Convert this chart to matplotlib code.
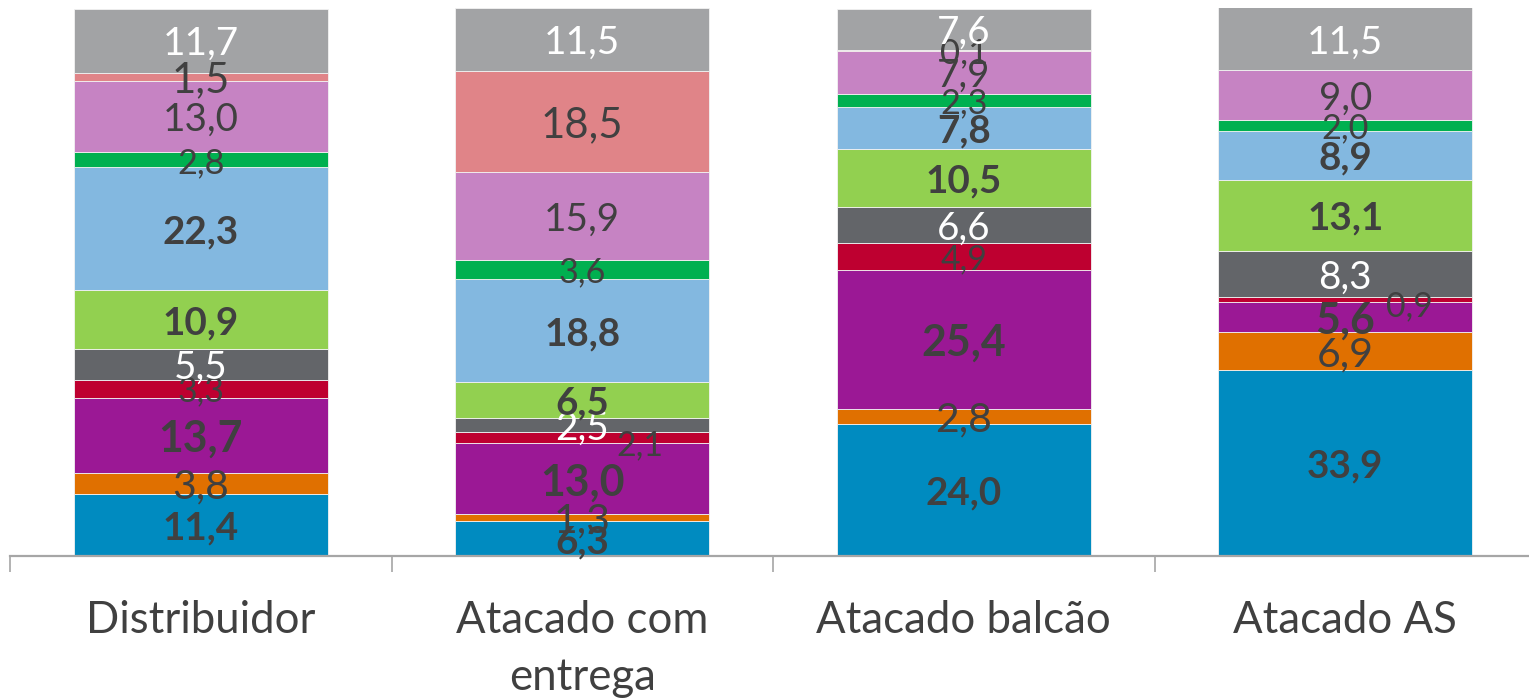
import matplotlib
matplotlib.use("Agg")
import matplotlib.pyplot as plt
import matplotlib.transforms as mtransforms
import numpy as np

plt.rcParams["font.family"] = ["Lato", "DejaVu Sans"]

# Channels (columns) and shares (%) per segment, bottom to top
categories = ["Distribuidor", "Atacado com\nentrega", "Atacado balcão", "Atacado AS"]

seg_blue = [11.4, 6.3, 24.0, 33.9]
seg_orange = [3.8, 1.3, 2.8, 6.9]
seg_purple = [13.7, 13.0, 25.4, 5.6]
seg_red = [3.3, 2.1, 4.9, 0.9]
seg_darkgray = [5.5, 2.5, 6.6, 8.3]
seg_lightgreen = [10.9, 6.5, 10.5, 13.1]
seg_lightblue = [22.3, 18.8, 7.8, 8.9]
seg_green = [2.8, 3.6, 2.3, 2.0]
seg_pink = [13.0, 15.9, 7.9, 9.0]
seg_salmon = [1.5, 18.5, 0.1, 0.0]
seg_gray = [11.7, 11.5, 7.6, 11.5]

series = [seg_blue, seg_orange, seg_purple, seg_red, seg_darkgray,
          seg_lightgreen, seg_lightblue, seg_green, seg_pink, seg_salmon, seg_gray]

# Styling per series: fill colour, label colour, label weight and size
fills = ["#008BC0", "#E07000", "#9B1895", "#BE0030", "#636569",
         "#92D050", "#83B8E0", "#00B050", "#C683C3", "#E08488", "#A2A3A5"]
dark = "#404040"
label_colors = [dark, dark, dark, dark, "white",
                dark, dark, dark, dark, dark, "white"]
label_bold = [True, False, True, False, False,
              True, True, False, False, False, False]
label_sizes = [27.8, 29.5, 30.9, 24.4, 27.8,
               27.8, 27.8, 24.7, 27.8, 30.2, 27.8]
# Individual label size overrides (series index, column index) -> size
label_size_override = {(9, 2): 25.0}

# Labels nudged sideways (series index, column index) -> (dx, dy) in pixels
label_nudge = {(3, 1): (58, -5), (3, 3): (64, -4)}

W, H = 1529, 700
fig = plt.figure(figsize=(W / 100, H / 100), dpi=100)
ax = fig.add_axes([10 / W, (H - 556) / H, 1526 / W, 548 / H])

x = np.arange(len(categories))
bottom = np.zeros(len(categories))
for i, vals in enumerate(series):
    vals = np.asarray(vals)
    ax.bar(x, vals, width=0.666, bottom=bottom, color=fills[i],
           edgecolor="#F2F2F2", linewidth=0.6, zorder=2)
    for j, v in enumerate(vals):
        if v <= 0:
            continue
        dx, dy = label_nudge.get((i, j), (0, 0))
        off = mtransforms.offset_copy(ax.transData, fig=fig, x=dx, y=dy, units="dots")
        ax.text(x[j], bottom[j] + v / 2, f"{v:.1f}".replace(".", ","),
                transform=off, ha="center", va="center_baseline",
                fontsize=label_size_override.get((i, j), label_sizes[i]),
                color=label_colors[i],
                fontweight="bold" if label_bold[i] else "normal", zorder=5)
    bottom += vals

ax.set_xlim(-0.5, len(categories) - 0.5)
ax.set_ylim(0, 100)
ax.set_yticks([])
for s in ["left", "right", "top"]:
    ax.spines[s].set_visible(False)
ax.spines["bottom"].set_color("#A6A6A6")
ax.spines["bottom"].set_linewidth(1.6)

# Category separators below the axis
ax.set_xticks(np.arange(len(categories) + 1) - 0.5)
ax.set_xticklabels([])
ax.tick_params(axis="x", direction="out", length=11.5, width=1.2, color="#A6A6A6")

# Category names, one baseline per line, 57 px apart
for j, name in enumerate(categories):
    for k, line in enumerate(name.split("\n")):
        pos = mtransforms.offset_copy(ax.transData, fig=fig, x=0, y=-57 * k, units="dots")
        ax.text(x[j], -14.05, line, transform=pos, ha="center", va="baseline",
                fontsize=31.5, color=dark, clip_on=False)

fig.savefig("out.png", dpi=100)
